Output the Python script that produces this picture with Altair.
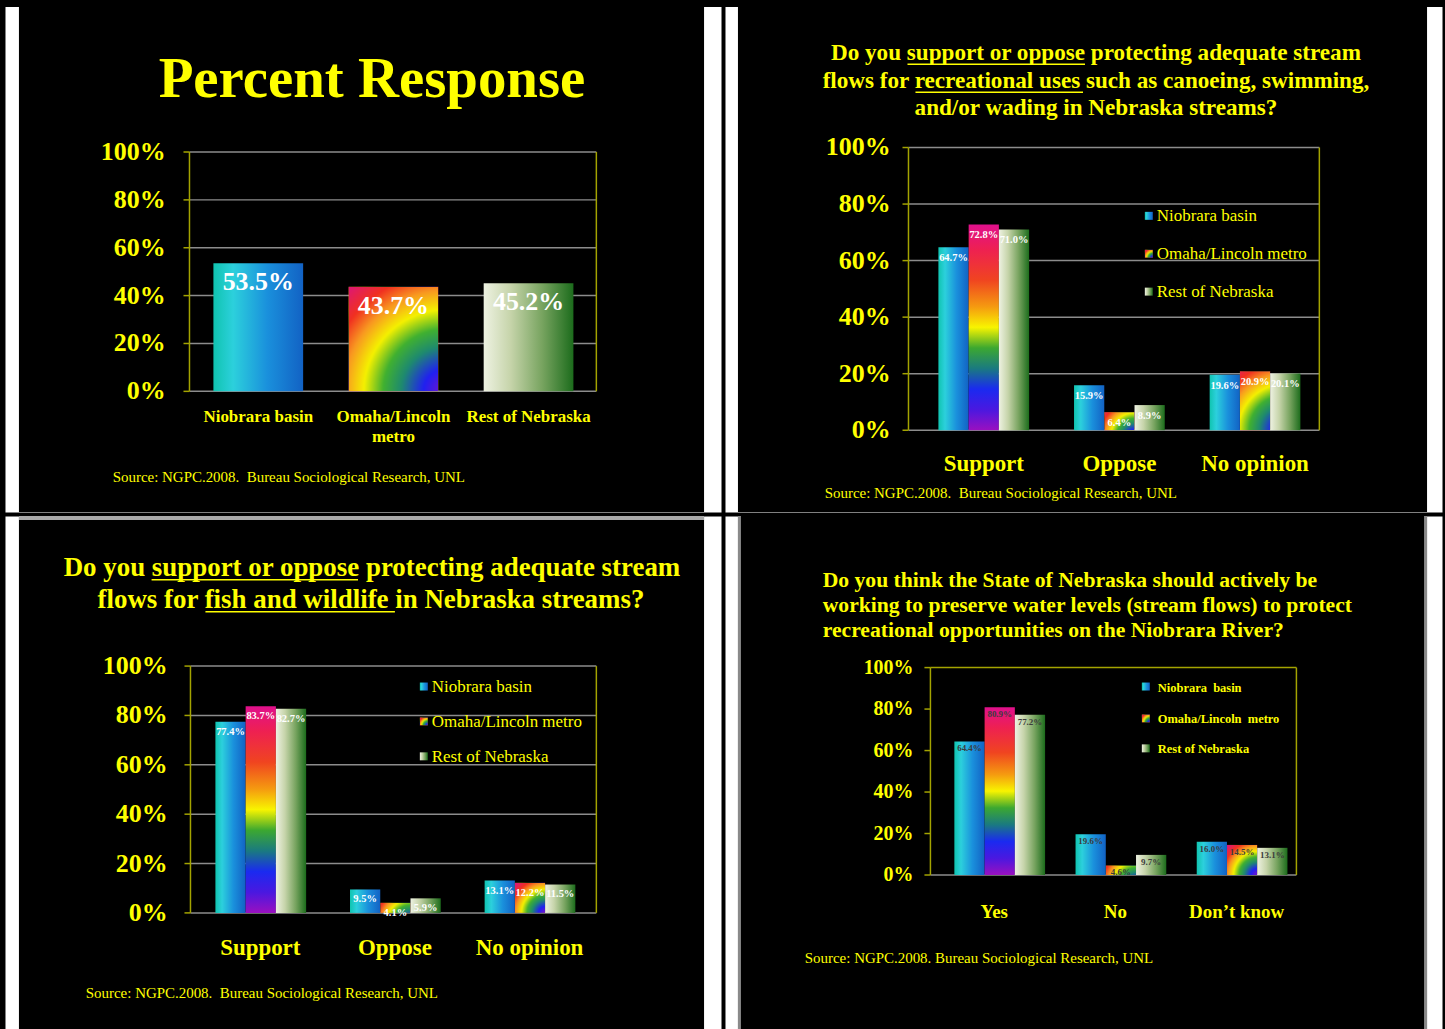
import altair as alt
import pandas as pd

# ---------------- data ----------------
SERIES = ["Niobrara basin", "Omaha/Lincoln metro", "Rest of Nebraska"]
TICK_VALUES = [0, 20, 40, 60, 80, 100]
TICK_LABELS = ["0%", "20%", "40%", "60%", "80%", "100%"]

P1_TITLE = "Percent Response"
P1_CATEGORIES = ["Niobrara basin", "Omaha/Lincoln metro", "Rest of Nebraska"]
P1_CATEGORY_LABELS = ["Niobrara basin", "Omaha/Lincoln\nmetro", "Rest of Nebraska"]
P1_VALUES = [53.5, 43.7, 45.2]

P2_TITLE = ["Do you support or oppose protecting adequate stream",
            "flows for recreational uses such as canoeing, swimming,",
            "and/or wading in Nebraska streams?"]
P2_CATEGORIES = ["Support", "Oppose", "No opinion"]
P2_NIOBRARA = [64.7, 15.9, 19.6]
P2_OMAHA = [72.8, 6.4, 20.9]
P2_REST = [71.0, 8.9, 20.1]

P3_TITLE = ["Do you support or oppose protecting adequate stream",
            "flows for fish and wildlife in Nebraska streams?"]
P3_CATEGORIES = ["Support", "Oppose", "No opinion"]
P3_NIOBRARA = [77.4, 9.5, 13.1]
P3_OMAHA = [83.7, 4.1, 12.2]
P3_REST = [82.7, 5.9, 11.5]

P4_TITLE = ["Do you think the State of Nebraska should actively be",
            "working to preserve water levels (stream flows) to protect",
            "recreational opportunities on the Niobrara River?"]
P4_CATEGORIES = ["Yes", "No", "Don\u2019t know"]
P4_NIOBRARA = [64.4, 19.6, 16.0]
P4_OMAHA = [80.9, 4.6, 14.5]
P4_REST = [77.2, 9.7, 13.1]
P4_LEGEND = ["Niobrara\u00a0 basin", "Omaha/Lincoln\u00a0 metro", "Rest of Nebraska"]

SOURCE = "Source: NGPC.2008.\u00a0 Bureau Sociological Research, UNL"
SOURCE4 = "Source: NGPC.2008. Bureau Sociological Research, UNL"

# ---------------- styles ----------------
FONT = "Liberation Serif"
YELLOW = "#FFFF00"
GRID = "#8C8C8C"
OLIVE = "#A3A300"


def lin(stops, horizontal=True):
    return alt.LinearGradient(
        gradient="linear", x1=0, y1=0,
        x2=1 if horizontal else 0, y2=0 if horizontal else 1,
        stops=[alt.GradientStop(offset=o, color=c) for o, c in stops])


def rad(stops):
    return alt.RadialGradient(
        gradient="radial", x1=1, y1=1, r1=0, x2=1, y2=1, r2=1.42,
        stops=[alt.GradientStop(offset=o, color=c) for o, c in stops])


G_NIO = lin([(0, "#10C4B0"), (0.22, "#2CD0DC"), (0.6, "#1A90DC"), (1, "#1262C4")])
G_REST = lin([(0, "#EEF2E2"), (0.3, "#C6D4AA"), (0.65, "#78A460"), (1, "#1C6C1C")])
G_OMA_LIN = lin([(0, "#E0108C"), (0.12, "#EE2052"), (0.27, "#F04420"), (0.4, "#F59A10"),
                 (0.5, "#F8F400"), (0.6, "#3CA830"), (0.7, "#1A7A80"), (0.8, "#1A2AF0"),
                 (0.9, "#4A18E0"), (1, "#9A10C0")], horizontal=False)
G_OMA_RAD = rad([(0, "#7A12C8"), (0.15, "#2020F0"), (0.3, "#1E8A6E"), (0.42, "#40B030"),
                 (0.55, "#F4F000"), (0.68, "#F89820"), (0.8, "#F03020"), (1, "#D8108C")])

ONE = pd.DataFrame({"k": [0]})


def text_at(text, x, y, size, weight="bold", align="left", color=YELLOW):
    return alt.Chart(ONE).mark_text(
        text=text, font=FONT, fontSize=size, fontWeight=weight, align=align,
        baseline="alphabetic", color=color).encode(x=alt.value(x), y=alt.value(y))


def hrule(x1, x2, y, color, w):
    return alt.Chart(ONE).mark_rule(color=color, strokeWidth=w).encode(
        x=alt.value(x1), x2=alt.value(x2), y=alt.value(y))


def vrule(x, y1, y2, color, w):
    return alt.Chart(ONE).mark_rule(color=color, strokeWidth=w).encode(
        x=alt.value(x), y=alt.value(y1), y2=alt.value(y2))


def box(x1, x2, y1, y2, fill):
    return alt.Chart(ONE).mark_rect(color=fill).encode(
        x=alt.value(x1), x2=alt.value(x2), y=alt.value(y1), y2=alt.value(y2))


def long_df(cats, nio, oma, rest):
    rows = []
    for s, vals in zip(SERIES, [nio, oma, rest]):
        for c, v in zip(cats, vals):
            rows.append({"cat": c, "s": s, "v": v})
    return pd.DataFrame(rows)


def panel(g, df, cats, cat_labels, grouped):
    xs = alt.Scale(domain=cats, range=g["xr"], paddingInner=g["p"], paddingOuter=0)
    ys = alt.Scale(domain=[0, 100], range=[g["bot"], g["top"]], nice=False)
    X = alt.X("cat:N", scale=xs, axis=None)
    enc = dict(x=X, y=alt.Y("v:Q", scale=ys, axis=None))
    if grouped:
        enc["xOffset"] = alt.XOffset("s:N", scale=alt.Scale(domain=SERIES, paddingInner=0, paddingOuter=0))
    L, R, T, B = g["L"], g["R"], g["top"], g["bot"]
    layers = [box(g["sx"][0], g["sx"][1], 0, g["h"], "black")]
    for extra in g.get("deco", []):
        layers.append(extra)

    ticks = pd.DataFrame({"t": TICK_VALUES, "lab": TICK_LABELS})
    Yt = alt.Y("t:Q", scale=ys, axis=None)
    if g.get("grid", True):
        layers.append(alt.Chart(ticks).transform_filter("datum.t > 0").mark_rule(
            color=GRID, strokeWidth=1.5).encode(y=Yt, x=alt.value(L), x2=alt.value(R)))
    else:
        layers.append(hrule(L, R, T, OLIVE, 1.5))
    layers.append(hrule(L, R, B, GRID, 1.5))
    layers.append(vrule(L, T, B, OLIVE, 1.5))
    layers.append(vrule(R, T, B, OLIVE, 1.5))
    layers.append(alt.Chart(ticks).mark_rule(color=OLIVE, strokeWidth=1.5).encode(
        y=Yt, x=alt.value(L - 6), x2=alt.value(L)))
    layers.append(alt.Chart(ticks).mark_text(
        font=FONT, fontSize=g["ylab_size"], fontWeight="bold", color=YELLOW,
        align="right", baseline="middle").encode(y=Yt, x=alt.value(g["ylab_x"]), text="lab:N"))

    base = alt.Chart(df)
    layers.append(base.transform_filter(alt.datum.s == SERIES[0]).mark_bar(color=G_NIO).encode(**enc))
    layers.append(base.transform_filter(f"datum.s == '{SERIES[1]}' && datum.v >= 50").mark_bar(color=G_OMA_LIN).encode(**enc))
    layers.append(base.transform_filter(f"datum.s == '{SERIES[1]}' && datum.v < 50").mark_bar(color=G_OMA_RAD).encode(**enc))
    layers.append(base.transform_filter(alt.datum.s == SERIES[2]).mark_bar(color=G_REST).encode(**enc))
    layers.append(base.transform_calculate(lab="format(datum.v, '.1f') + '%'").mark_text(
        font=FONT, fontSize=g["vlab_size"], fontWeight="bold", color=g["vlab_color"],
        baseline="alphabetic", dy=g["vlab_dy"]).encode(**enc, text="lab:N"))

    layers.append(alt.Chart(pd.DataFrame({"cat": cats, "lab": cat_labels})).mark_text(
        font=FONT, fontSize=g["cat_size"], fontWeight="bold", color=YELLOW,
        baseline="alphabetic", lineBreak="\n", lineHeight=g.get("cat_lh", 20)).encode(
        x=X, y=alt.value(g["cat_y"]), text="lab:N"))

    for (t, x, y, size, w, a) in g["texts"]:
        layers.append(text_at(t, x, y, size, w, a))
    for (x1, x2, y) in g.get("underlines", []):
        layers.append(hrule(x1, x2, y, YELLOW, 1.5))
    if "legend" in g:
        lg = g["legend"]
        for i, (grad, name) in enumerate(zip([G_NIO, G_OMA_RAD, G_REST], lg["names"])):
            c = lg["rows"][i]
            layers.append(box(lg["sq"][0], lg["sq"][1], c - lg["half"], c + lg["half"], grad))
            layers.append(text_at(name, lg["tx"], c + lg["dy"], lg["size"], lg["weight"], "left"))

    return alt.layer(*layers).properties(width=g["w"], height=g["h"])


# ---------------- panels ----------------
df1 = pd.DataFrame({"cat": P1_CATEGORIES, "s": SERIES, "v": P1_VALUES})
g1 = dict(w=718, h=507, sx=(14, 701), L=185, R=593, top=146, bot=386,
          xr=[209, 570], p=0.336, ylab_x=161, ylab_size=26,
          vlab_size=26, vlab_color="white", vlab_dy=27,
          cat_size=17, cat_y=417, cat_lh=20,
          texts=[(P1_TITLE, 368, 91, 57, "bold", "center"),
                 (SOURCE, 108, 477, 15, "normal", "left")])
p1 = panel(g1, df1, P1_CATEGORIES, P1_CATEGORY_LABELS, grouped=False)

df2 = long_df(P2_CATEGORIES, P2_NIOBRARA, P2_OMAHA, P2_REST)
g2 = dict(w=719, h=507, sx=(13, 704), L=184, R=596, top=141.5, bot=425,
          xr=[214, 577], p=0.331, ylab_x=166, ylab_size=26,
          vlab_size=10.5, vlab_color="white", vlab_dy=14,
          cat_size=23, cat_y=466,
          texts=[(P2_TITLE[0], 372, 54, 23.2, "bold", "center"),
                 (P2_TITLE[1], 372, 82, 23.2, "bold", "center"),
                 (P2_TITLE[2], 372, 109, 23.2, "bold", "center"),
                 (SOURCE, 100, 493, 15, "normal", "left")],
          underlines=[(183, 361, 58), (191, 359, 86)],
          legend=dict(names=SERIES, sq=(421, 429), rows=[210, 248, 286], half=4,
                      tx=433, dy=5.5, size=17, weight="normal"))
p2 = panel(g2, df2, P2_CATEGORIES, P2_CATEGORIES, grouped=True)

df3 = long_df(P3_CATEGORIES, P3_NIOBRARA, P3_OMAHA, P3_REST)
g3 = dict(w=718, h=516, sx=(14, 701), L=186, R=593, top=150.5, bot=398,
          xr=[211, 571], p=0.333, ylab_x=163, ylab_size=26,
          vlab_size=10.5, vlab_color="white", vlab_dy=13,
          cat_size=23, cat_y=440,
          deco=[box(14, 701, 0, 4, "#A8A8A8")],
          texts=[(P3_TITLE[0], 368, 60, 27, "bold", "center"),
                 (P3_TITLE[1], 367, 92, 27, "bold", "center"),
                 (SOURCE, 81, 483, 15, "normal", "left")],
          underlines=[(147, 354, 64), (201, 391, 96)],
          legend=dict(names=SERIES, sq=(416, 424), rows=[171, 206, 241], half=4,
                      tx=428, dy=5.5, size=17, weight="normal"))
p3 = panel(g3, df3, P3_CATEGORIES, P3_CATEGORIES, grouped=True)

df4 = long_df(P4_CATEGORIES, P4_NIOBRARA, P4_OMAHA, P4_REST)
g4 = dict(w=719, h=516, sx=(13, 704), L=206, R=573, top=152, bot=360,
          xr=[230, 553], p=0.342, ylab_x=189, ylab_size=20,
          vlab_size=9, vlab_color="#3C3C3C", vlab_dy=10,
          cat_size=19, cat_y=403, grid=False,
          deco=[box(13, 16, 0, 516, "#8A8A8A"), box(701, 704, 0, 516, "#8A8A8A")],
          texts=[(P4_TITLE[0], 98, 71, 21.7, "bold", "left"),
                 (P4_TITLE[1], 98, 96, 21.7, "bold", "left"),
                 (P4_TITLE[2], 98, 121, 21.7, "bold", "left"),
                 (SOURCE4, 80, 448, 15, "normal", "left")],
          legend=dict(names=P4_LEGEND, sq=(418, 426), rows=[171, 203, 233], half=4,
                      tx=434, dy=5, size=12.5, weight="bold"))
p4 = panel(g4, df4, P4_CATEGORIES, P4_CATEGORIES, grouped=True)

chart = alt.vconcat(
    alt.hconcat(p1, p2, spacing=2),
    alt.hconcat(p3, p4, spacing=2),
    spacing=2,
).properties(
    background="black",
    padding={"left": 4, "top": 4, "right": 2, "bottom": 0},
).configure_view(fill="white", stroke="transparent")

chart.save("out.html", embed_options={"renderer": "svg", "actions": False})
